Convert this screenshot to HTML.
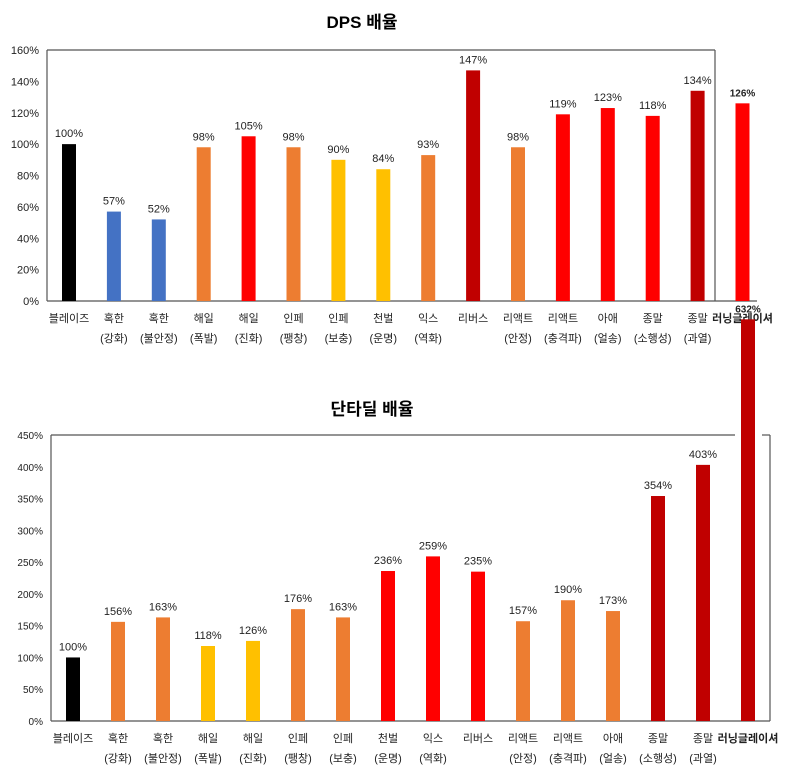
<!DOCTYPE html>
<html><head><meta charset="utf-8">
<style>
html,body{margin:0;padding:0;background:#fff;width:800px;height:774px;overflow:hidden}
svg text{font-family:"Liberation Sans","Noto Sans CJK KR","NanumGothic",sans-serif}
</style></head>
<body>
<svg id="c" width="800" height="774" xmlns="http://www.w3.org/2000/svg"></svg>
<script>
const cat1 = ["블레이즈","혹한|(강화)","혹한|(불안정)","해일|(폭발)","해일|(진화)","인페|(팽창)","인페|(보충)","천벌|(운명)","익스|(역화)","리버스","리액트|(안정)","리액트|(충격파)","아애|(얼송)","종말|(소행성)","종말|(과열)","러닝글레이셔"];
const dps = [100,57,52,98,105,98,90,84,93,147,98,119,123,118,134,126];
const dpsColors = ["k","b","b","o","r","o","y","y","o","d","o","r","r","r","d","r"];
const dpsTicks = [0,20,40,60,80,100,120,140,160];
const cat2 = ["블레이즈","혹한|(강화)","혹한|(불안정)","해일|(폭발)","해일|(진화)","인페|(팽창)","인페|(보충)","천벌|(운명)","익스|(역화)","리버스","리액트|(안정)","리액트|(충격파)","아애|(얼송)","종말|(소행성)","종말|(과열)","러닝글레이셔"];
const burst = [100,156,163,118,126,176,163,236,259,235,157,190,173,354,403,632];
const burstColors = ["k","o","o","y","y","o","o","r","r","r","o","o","o","d","d","d"];
const burstTicks = [0,50,100,150,200,250,300,350,400,450];
const pal = {k:"#000000",b:"#4472C4",o:"#ED7D31",r:"#FF0000",d:"#C00000",y:"#FFC000"};
const svg = document.getElementById('c');
const NS = "http://www.w3.org/2000/svg";
function mk(tag, at, parent){const e=document.createElementNS(NS,tag);for(const k in at)e.setAttribute(k,at[k]);(parent||svg).appendChild(e);return e;}

function chart(o){
  const g = mk('g',{});
  
  
  const y = v => o.y0 - (v/o.max)*(o.y0-o.yTop);
  const x = i => o.x0 + i*o.step;
  const t = mk('text',{x:o.titleX,y:o.titleY,'font-size':17,'font-weight':'bold','text-anchor':'middle',fill:'#000'},g);
  t.textContent = o.title;
  
  
  // frame
  o.frame.forEach(s=>{
    const l = mk('line',{x1:s[0],y1:s[1],x2:s[2],y2:s[3],stroke:'#555','stroke-width':1.2},g);
    
    
  });
  o.ticks.forEach(v=>{
    const tt = mk('text',{x:o.left-8,y:y(v)+4,'font-size':o.tickFs,'text-anchor':'end',fill:'#222'},g);
    tt.textContent = v+'%';
    
    
  });
  o.vals.forEach((v,i)=>{
    const r = mk('rect',{x:x(i)-7,y:y(v),width:14,height:o.y0-y(v),fill:pal[o.colors[i]]},g);
    
    
    const lab = mk('text',{x:x(i),y:y(v)-7,'font-size':(i==15?10:11),'font-weight':(i==15?'bold':'normal'),'text-anchor':'middle',fill:'#222'},g);
    lab.textContent = v+'%';
    
    
    const parts = o.cats[i].split('|');
    parts.forEach((p,j)=>{
      const c = mk('text',{x:x(i),y:o.catY+j*20,'font-size':11,'font-weight':(i==15?'bold':'normal'),'text-anchor':'middle',fill:'#222'},g);
      c.textContent = p;
      
      
    });
  });
}
chart({name:'dps-chart',title:'DPS 배율',titleX:362,titleY:28,left:47,y0:301,yTop:50,max:160,x0:69,step:44.9,
  vals:dps,colors:dpsColors,cats:cat1,ticks:dpsTicks,tickFs:11,catY:322,
  frame:[[47,50,715,50],[47,50,47,301],[715,50,715,301],[47,301,757,301]]});
chart({name:'burst-chart',title:'단타딜 배율',titleX:372,titleY:415,left:51,y0:721,yTop:435,max:450,x0:73,step:45,
  vals:burst,colors:burstColors,cats:cat2,ticks:burstTicks,tickFs:10,catY:742,
  frame:[[51,435,735,435],[762,435,770,435],[51,435,51,721],[770,435,770,721],[51,721,770,721]]});
</script>
</body></html>
